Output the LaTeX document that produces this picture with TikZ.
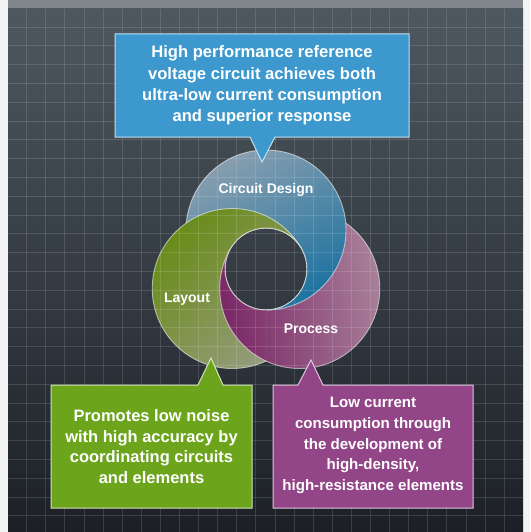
\documentclass[tikz,border=0pt]{standalone}
\usepackage{fontspec}
\setmainfont{Liberation Sans}
\usetikzlibrary{calc}
\definecolor{bgtop}{RGB}{78,88,96}
\definecolor{bgbot}{RGB}{28,32,38}
\definecolor{band}{RGB}{128,134,140}
\definecolor{side}{RGB}{242,244,245}
\definecolor{bl1}{RGB}{135,158,175}
\definecolor{bl2}{RGB}{30,115,160}
\definecolor{gr1}{RGB}{105,140,25}
\definecolor{gr2}{RGB}{152,156,130}
\definecolor{pu1}{RGB}{122,40,102}
\definecolor{pu2}{RGB}{168,128,154}
\definecolor{boxblue}{RGB}{60,152,205}
\definecolor{boxgreen}{RGB}{108,165,28}
\definecolor{boxpurple}{RGB}{146,70,136}
\tikzset{
  ringline/.style={draw=white, draw opacity=0.55, line width=0.9pt},
  gridline/.style={draw=white, opacity=0.13, line width=0.9pt},
  calloutB/.style={fill=boxblue, draw=white!70!boxblue, line width=1pt},
  calloutG/.style={fill=boxgreen, draw=white!70!boxgreen, line width=1pt},
  calloutP/.style={fill=boxpurple, draw=white!70!boxpurple, line width=1pt},
  ringlabel/.style={text=white, font=\fontsize{14}{16}\selectfont\bfseries},
  boxtext/.style={text=white, align=center, inner sep=0pt},
}
\newcommand\ringBlue{\shadedraw[even odd rule, ringline, top color=bl1, bottom color=bl2, shading angle=30] (Cb) circle[radius=80] (H) circle[radius=41];}
\newcommand\ringGreen{\shadedraw[even odd rule, ringline, top color=gr1, bottom color=gr2, shading angle=45] (Cg) circle[radius=80] (H) circle[radius=41];}
\newcommand\ringPurple{\shadedraw[even odd rule, ringline, top color=pu1, bottom color=pu2, shading angle=100] (Cp) circle[radius=80] (H) circle[radius=41];}
\begin{document}
\begin{tikzpicture}[x=1pt,y=1pt]
\useasboundingbox (0,0) rectangle (530,-532);
\fill[side] (0,0) rectangle (530,-532);
\fill[band] (8,0) rectangle (523,-9);
\shade[top color=bgtop, bottom color=bgbot] (8,-9) rectangle (523,-532);
% rings
\coordinate (H) at (266,-269);
\coordinate (Cb) at ($(H)+(90:39)$);
\coordinate (Cg) at ($(H)+(210:39)$);
\coordinate (Cp) at ($(H)+(-30:39)$);
\begin{scope}
  \clip (H) -- ++(30:130) arc[start angle=30, end angle=-90, radius=130] -- cycle;
  \ringGreen \ringPurple \ringBlue
\end{scope}
\begin{scope}
  \clip (H) -- ++(-90:130) arc[start angle=-90, end angle=-210, radius=130] -- cycle;
  \ringBlue \ringGreen \ringPurple
\end{scope}
\begin{scope}
  \clip (H) -- ++(-210:130) arc[start angle=-210, end angle=-330, radius=130] -- cycle;
  \ringPurple \ringBlue \ringGreen
\end{scope}
% grid
\foreach \i in {0,...,25} \draw[gridline] ({26.7+19.1*\i},-9) -- ({26.7+19.1*\i},-532);
\foreach \j in {0,...,26} \draw[gridline] (8,{-27-18.8*\j}) -- (523,{-27-18.8*\j});
% ring labels
\node[ringlabel] (cd) at (266,-190) {Circuit Design};
\node[ringlabel] (lay) at (187,-299) {Layout};
\node[ringlabel] (pro) at (311,-329) {Process};
% callouts
\draw[calloutB] (115,-34) -- (409,-34) -- (409,-137) -- (275,-137) -- (262,-162) -- (250,-137) -- (115,-137) -- cycle;
\draw[calloutG] (51,-385) -- (198,-385) -- (211,-358) -- (223,-385) -- (252,-385) -- (252,-508) -- (51,-508) -- cycle;
\draw[calloutP] (273,-385) -- (298,-385) -- (311,-360) -- (323,-385) -- (473,-385) -- (473,-508) -- (273,-508) -- cycle;
\node[boxtext, font=\fontsize{16.6}{21.3}\selectfont\bfseries] (tb) at (262,-85.5)
  {High performance reference\\voltage circuit achieves both\\ultra-low current consumption\\and superior response};
\node[boxtext, font=\fontsize{16.5}{20.7}\selectfont\bfseries] (tg) at (151.5,-446.5)
  {Promotes low noise\\with high accuracy by\\coordinating circuits\\and elements};
\node[boxtext, font=\fontsize{15.1}{20.8}\selectfont\bfseries] (tp) at (373,-445.5)
  {Low current\\consumption through\\the development of\\high-density,\\high-resistance elements};
\end{tikzpicture}
\end{document}
